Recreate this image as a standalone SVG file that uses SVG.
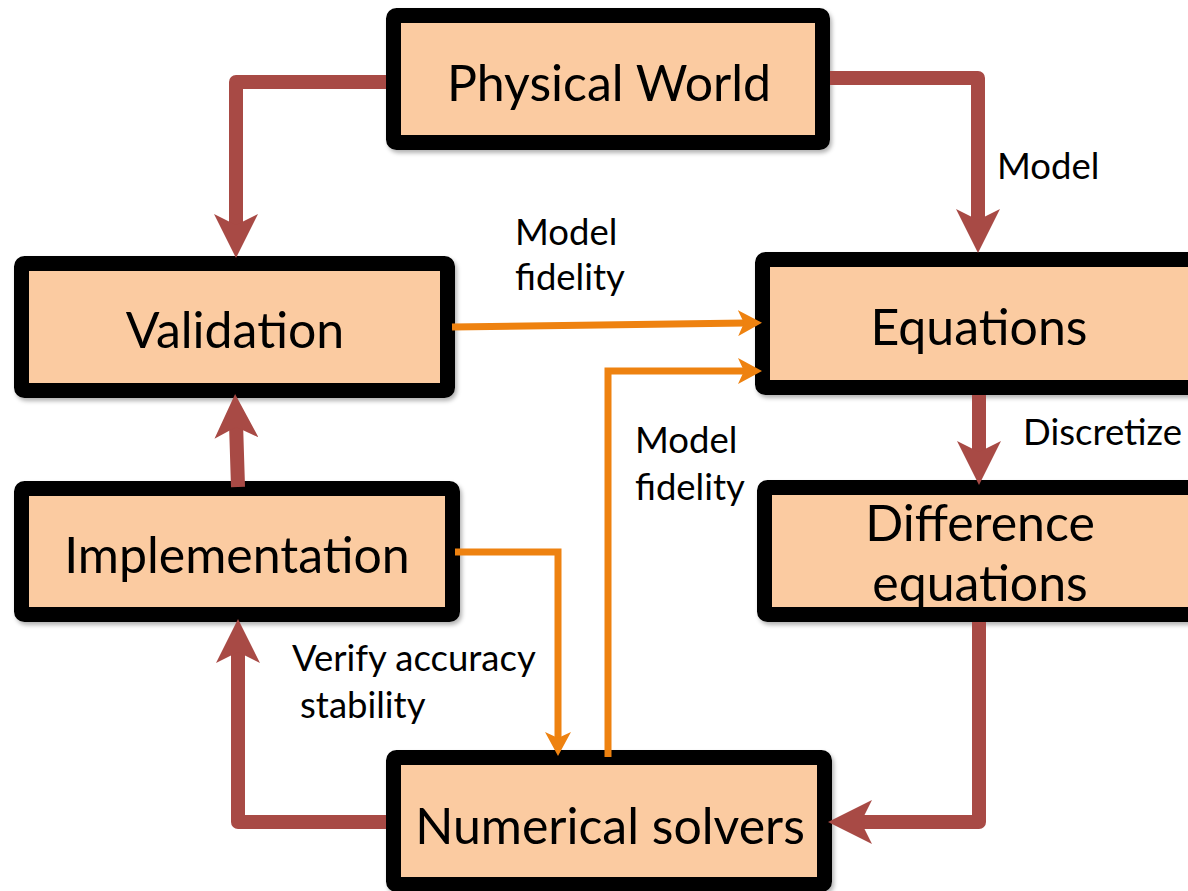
<svg xmlns="http://www.w3.org/2000/svg" width="1188" height="891" viewBox="0 0 1188 891">
<style>
.box{fill:#FBCBA1;stroke:#000;stroke-width:15}
.bt{font-family:Lato,"Liberation Sans",sans-serif;font-size:50px;fill:#000;text-anchor:middle}
.lb{font-family:Lato,"Liberation Sans",sans-serif;font-size:36.5px;fill:#000}
.red{fill:none;stroke:#A84A45;stroke-width:14;stroke-linejoin:round;marker-end:url(#ra)}
.org{fill:none;stroke:#EE8210;stroke-width:7;stroke-linejoin:miter;marker-end:url(#oa)}
</style>
<defs>
<filter id="sh" x="-10%" y="-10%" width="120%" height="130%">
<feDropShadow dx="2" dy="3" stdDeviation="2" flood-color="#000" flood-opacity="0.3"/>
</filter>
<marker id="ra" markerUnits="userSpaceOnUse" viewBox="0 0 44 44" markerWidth="44" markerHeight="44" refX="15" refY="22" orient="auto">
<path d="M44,22 L0,0 L11,22 L0,44 Z" fill="#A84A45"/>
</marker>
<marker id="oa" markerUnits="userSpaceOnUse" viewBox="0 0 24 26" markerWidth="24" markerHeight="26" refX="8" refY="13" orient="auto">
<path d="M24,13 L0,0 L6,13 L0,26 Z" fill="#EE8210"/>
</marker>
</defs>
<rect width="1188" height="891" fill="#fff"/>
<g id="physical-world" filter="url(#sh)">
<rect class="box" x="393.5" y="15.5" width="429" height="127" rx="3"/>
<text class="bt" x="609" y="101">Physical World</text>
</g>
<g id="validation" filter="url(#sh)">
<rect class="box" x="21.5" y="263.5" width="426" height="127" rx="3"/>
<text class="bt" x="235" y="348">Validation</text>
</g>
<g id="equations" filter="url(#sh)">
<rect class="box" x="762.5" y="259.5" width="433" height="128" rx="3"/>
<text class="bt" x="979" y="345">Equations</text>
</g>
<g id="implementation" filter="url(#sh)">
<rect class="box" x="21.5" y="488.5" width="431" height="126" rx="3"/>
<text class="bt" x="237" y="573">Implementation</text>
</g>
<g id="difference-equations" filter="url(#sh)">
<rect class="box" x="764.5" y="487.5" width="431" height="127" rx="3"/>
<text class="bt" x="980" y="541">Difference</text>
<text class="bt" x="980" y="601">equations</text>
</g>
<g id="numerical-solvers" filter="url(#sh)">
<rect class="box" x="393.5" y="757.5" width="431" height="127" rx="3"/>
<text class="bt" x="610" y="844">Numerical solvers</text>
</g>
<g id="connectors">
<path class="red" d="M386,82 H236 V229"/>
<path class="red" d="M830,78 H978 V224"/>
<path class="red" d="M979,395 V456"/>
<path class="red" d="M979,622 V822 H857"/>
<path class="red" d="M386,822 H238 V648"/>
<path class="red" d="M238,487 L236,423"/>
<path class="org" d="M452,327 L746,323"/>
<path class="org" d="M608,757 V371 H746"/>
<path class="org" d="M455,552 H558 V740"/>
</g>
<g id="labels">
<text class="lb" x="997" y="179">Model</text>
<text class="lb" x="515" y="245">Model</text>
<text class="lb" x="515" y="290">fidelity</text>
<text class="lb" x="635" y="453">Model</text>
<text class="lb" x="635" y="500">fidelity</text>
<text class="lb" x="1023" y="445">Discretize</text>
<text class="lb" x="292" y="671">Verify accuracy</text>
<text class="lb" x="300" y="718">stability</text>
</g>
</svg>
